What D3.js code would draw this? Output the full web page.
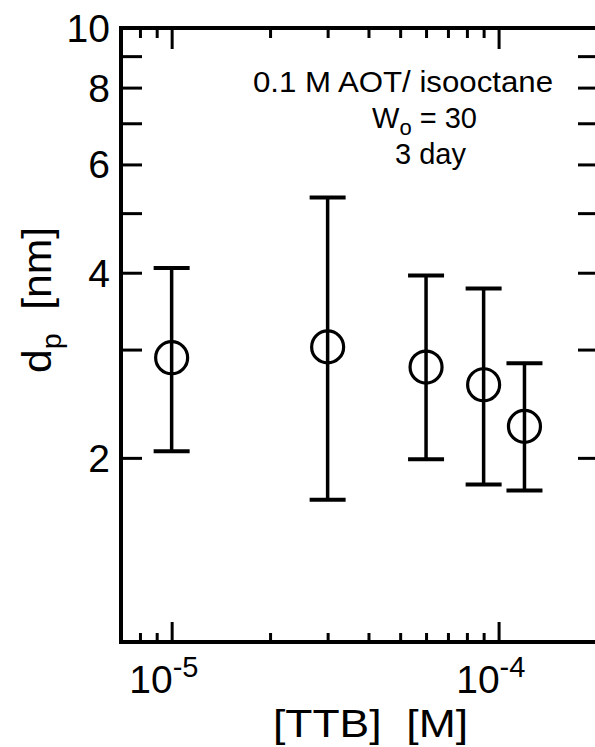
<!DOCTYPE html>
<html>
<head>
<meta charset="utf-8">
<script src="https://d3js.org/d3.v7.min.js"></script>
<style>
  body { margin: 0; background: #fff; }
  svg text { font-family: "Liberation Sans", Arial, sans-serif; fill: #000; white-space: pre; }
</style>
</head>
<body>
<div id="chart"></div>
<script>
// TTB concentration [M] and particle diameter d_p [nm] with error bar ends
var conc   = [1e-5, 3e-5, 6e-5, 9e-5, 1.2e-4];
var dp     = [2.91, 3.03, 2.81, 2.63, 2.25];
var dpHigh = [4.07, 5.30, 3.96, 3.77, 2.85];
var dpLow  = [2.05, 1.71, 1.99, 1.81, 1.77];

var xMajor = [1e-5, 1e-4];
var xMajorExp = ["-5", "-4"];
var xMinor = [8e-6, 9e-6, 2e-5, 3e-5, 4e-5, 5e-5, 6e-5, 7e-5, 8e-5, 9e-5];
var yTicks = [2, 3, 4, 5, 6, 7, 8, 9];
var yLabels = [2, 4, 6, 8, 10];

var width = 595, height = 747;
var m = {left: 121, right: 597, top: 28, bottom: 643};

var svg = d3.select("#chart").append("svg")
    .attr("width", width)
    .attr("height", height);

var x = d3.scaleLog().domain([7e-6, 2e-4]).range([m.left, m.right]);
var y = d3.scaleLog().domain([1, 10]).range([m.bottom, m.top]);

// ticks (all pointing inward)
function styleAxis(g) {
    g.select(".domain").remove();
    g.selectAll(".tick line").attr("stroke", "#000").attr("stroke-width", 3);
    g.selectAll(".tick text").remove();
}
svg.append("g").attr("transform", "translate(0," + m.bottom + ")")
   .call(d3.axisBottom(x).tickValues(xMajor).tickSize(-21)).call(styleAxis);
svg.append("g").attr("transform", "translate(0," + m.bottom + ")")
   .call(d3.axisBottom(x).tickValues(xMinor).tickSize(-10)).call(styleAxis);
svg.append("g").attr("transform", "translate(0," + m.top + ")")
   .call(d3.axisTop(x).tickValues(xMajor).tickSize(-21)).call(styleAxis);
svg.append("g").attr("transform", "translate(0," + m.top + ")")
   .call(d3.axisTop(x).tickValues(xMinor).tickSize(-10)).call(styleAxis);
svg.append("g").attr("transform", "translate(" + m.left + ",0)")
   .call(d3.axisLeft(y).tickValues(yTicks).tickSize(-21)).call(styleAxis);
svg.append("g").attr("transform", "translate(" + (m.right + 2) + ",0)")
   .call(d3.axisRight(y).tickValues(yTicks).tickSize(-21)).call(styleAxis);

// frame
svg.append("rect")
   .attr("x", m.left).attr("y", m.top)
   .attr("width", m.right + 2 - m.left).attr("height", m.bottom - 1 - m.top)
   .attr("fill", "none").attr("stroke", "#000").attr("stroke-width", 4);

// y tick labels
svg.selectAll(".ylab").data(yLabels).enter().append("text")
   .attr("x", 110)
   .attr("y", function(d) { return y(d) + 14; })
   .attr("text-anchor", "end")
   .style("font-size", "39px")
   .text(function(d) { return d; });

// x tick labels 10^n
xMajor.forEach(function(d, i) {
    svg.append("text")
       .attr("x", x(d) + 1).attr("y", 693)
       .attr("text-anchor", "end")
       .style("font-size", "39px")
       .text("10");
    svg.append("text")
       .attr("x", x(d) + 1).attr("y", 677)
       .style("font-size", "29px")
       .text(xMajorExp[i]);
});

// axis titles
svg.append("text")
   .attr("x", 273).attr("y", 737)
   .attr("textLength", 195)
   .attr("lengthAdjust", "spacingAndGlyphs")
   .style("font-size", "39px")
   .text("[TTB]  [M]");

var yt = svg.append("text")
   .attr("transform", "translate(51,373) rotate(-90)")
   .attr("textLength", 146)
   .attr("lengthAdjust", "spacingAndGlyphs")
   .style("font-size", "40px");
yt.append("tspan").text("d");
yt.append("tspan").attr("dy", 10).style("font-size", "27px").text("p");
yt.append("tspan").attr("dy", -10).text("  [nm]");

// annotation
svg.append("text").attr("x", 253).attr("y", 92)
   .attr("textLength", 300).attr("lengthAdjust", "spacingAndGlyphs")
   .style("font-size", "29px").text("0.1 M AOT/ isooctane");
var wo = svg.append("text").attr("x", 372).attr("y", 128).style("font-size", "29px");
wo.append("tspan").text("W");
wo.append("tspan").attr("dy", 7).style("font-size", "22px").text("o");
wo.append("tspan").attr("dy", -7).text(" = 30");
svg.append("text").attr("x", 395).attr("y", 164).style("font-size", "29px").text("3 day");

// error bars
var pts = svg.append("g");
conc.forEach(function(c, i) {
    var cx = x(c);
    pts.append("line")
       .attr("x1", cx).attr("x2", cx)
       .attr("y1", y(dpHigh[i])).attr("y2", y(dpLow[i]))
       .attr("stroke", "#000").attr("stroke-width", 3.5);
    [dpHigh[i], dpLow[i]].forEach(function(v) {
        pts.append("line")
           .attr("x1", cx - 18).attr("x2", cx + 18)
           .attr("y1", y(v)).attr("y2", y(v))
           .attr("stroke", "#000").attr("stroke-width", 4);
    });
    pts.append("circle")
       .attr("cx", cx).attr("cy", y(dp[i]))
       .attr("r", 16)
       .attr("fill", "none")
       .attr("stroke", "#000").attr("stroke-width", 3.2);
});
</script>
</body>
</html>
